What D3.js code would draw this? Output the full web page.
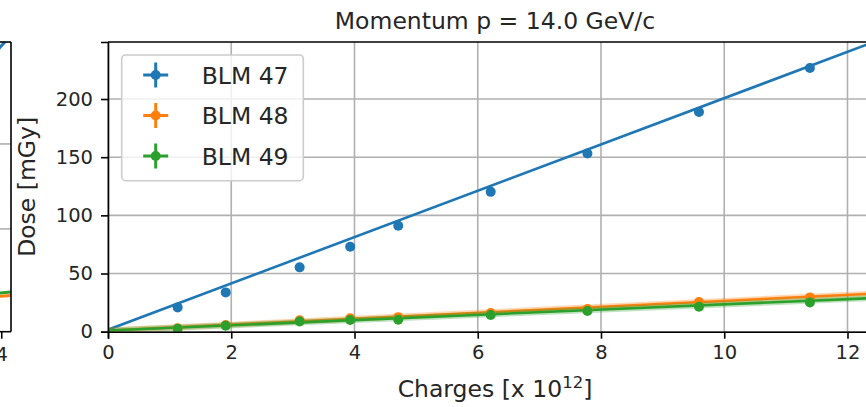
<!DOCTYPE html>
<html>
<head>
<meta charset="utf-8">
<script src="https://cdn.jsdelivr.net/npm/d3@7"></script>
<style>
  html, body { margin: 0; padding: 0; background: #fff; }
  svg { display: block; font-family: "DejaVu Sans", sans-serif; }
</style>
</head>
<body>
<div id="chart"></div>
<script>
// data
const charges = [1.13, 1.91, 3.11, 3.93, 4.71, 6.21, 7.78, 9.59, 11.39];
const blm47 = [20.9, 33.8, 55.3, 73.0, 91.0, 120.2, 153.1, 188.8, 226.6];
const blm48 = [3.0, 5.8, 9.8, 11.5, 12.5, 16.0, 19.5, 25.5, 29.5];
const blm49 = [2.6, 5.2, 8.8, 10.0, 10.3, 14.3, 17.8, 21.5, 25.2];
const xErr = [0.01, 0.01, 0.02, 0.02, 0.02, 0.03, 0.03, 0.04, 0.04];
const yErr47 = [0.5, 0.7, 1.0, 1.2, 1.4, 1.6, 1.8, 2.0, 2.2];
const yErr48 = [0.3, 0.4, 0.5, 0.6, 0.6, 0.7, 0.8, 1.0, 1.1];
const yErr49 = [0.3, 0.4, 0.5, 0.5, 0.6, 0.7, 0.8, 0.9, 1.0];
// linear fits [intercept, slope]
const fit47 = [1.7, 19.9];
const fit48 = [1.0, 2.55];
const fit49 = [1.0, 2.25];
const labels = ["BLM 47", "BLM 48", "BLM 49"];
const colors = ["#1f77b4", "#ff7f0e", "#2ca02c"];
const xTicks = [0, 2, 4, 6, 8, 10, 12];
const yTicks = [0, 50, 100, 150, 200];

// neighbouring panel, only its right edge is visible
const leftFits = [[0, 79], [0, 5.2], [0, 6.2]];
const leftYGrid = [100, 200];
const leftXTicks = [4];

const width = 866, height = 407;
const m = { left: 108, top: 42, right: 882, bottom: 331.7 };

const svg = d3.select("#chart").append("svg")
  .attr("width", width).attr("height", height);

const x = d3.scaleLinear().domain([0, 12.56]).range([m.left, m.right]);
const y = d3.scaleLinear().domain([0, 249]).range([m.bottom, m.top]);

// ---- left panel sliver ----
const lx = d3.scaleLinear().domain([3.0, 4.15]).range([11 - 1.15 * 61.64, 11]);
const ly = d3.scaleLinear().domain([-21, 320]).range([m.bottom, m.top]);
svg.append("clipPath").attr("id", "clipL").append("rect")
  .attr("x", -100).attr("y", m.top).attr("width", 111).attr("height", m.bottom - m.top);
const gl = svg.append("g");
gl.selectAll("line.grid").data(leftYGrid).join("line")
  .attr("x1", 0).attr("x2", 11).attr("y1", d => ly(d)).attr("y2", d => ly(d))
  .attr("stroke", "#b0b0b0").attr("stroke-width", 1.6);
const lineL = d3.line().x(d => lx(d[0])).y(d => ly(d[1]));
gl.append("g").attr("clip-path", "url(#clipL)")
  .selectAll("path").data([leftFits[1], leftFits[2], leftFits[0]]).join("path")
  .attr("d", f => lineL([[3.0, f[0] + f[1] * 3.0], [4.15, f[0] + f[1] * 4.15]]))
  .attr("fill", "none")
  .attr("stroke", (f, i) => [colors[1], colors[2], colors[0]][i])
  .attr("stroke-width", 3);
gl.append("line").attr("x1", -5).attr("x2", 11).attr("y1", m.top).attr("y2", m.top)
  .attr("stroke", "#000").attr("stroke-width", 1.6);
gl.append("line").attr("x1", -5).attr("x2", 11).attr("y1", m.bottom).attr("y2", m.bottom)
  .attr("stroke", "#000").attr("stroke-width", 1.6);
gl.append("line").attr("x1", 11).attr("x2", 11).attr("y1", m.top).attr("y2", m.bottom)
  .attr("stroke", "#000").attr("stroke-width", 1.6);
gl.selectAll("line.tk").data(leftXTicks).join("line")
  .attr("x1", d => lx(d)).attr("x2", d => lx(d))
  .attr("y1", m.bottom).attr("y2", m.bottom + 7)
  .attr("stroke", "#000").attr("stroke-width", 1.6);
gl.selectAll("text").data(leftXTicks).join("text")
  .attr("x", d => lx(d)).attr("y", 361)
  .attr("text-anchor", "middle").attr("font-size", 19.5).attr("fill", "#262626").text(d => d);

// ---- main panel ----
svg.append("clipPath").attr("id", "clip").append("rect")
  .attr("x", m.left).attr("y", m.top)
  .attr("width", m.right - m.left).attr("height", m.bottom - m.top);

// grid
svg.append("g").selectAll("line").data(xTicks).join("line")
  .attr("x1", d => x(d)).attr("x2", d => x(d))
  .attr("y1", m.top).attr("y2", m.bottom)
  .attr("stroke", "#b0b0b0").attr("stroke-width", 1.6);
svg.append("g").selectAll("line").data(yTicks).join("line")
  .attr("x1", m.left).attr("x2", m.right)
  .attr("y1", d => y(d)).attr("y2", d => y(d))
  .attr("stroke", "#b0b0b0").attr("stroke-width", 1.6);

const plot = svg.append("g").attr("clip-path", "url(#clip)");
const series = [
  { vals: blm47, err: yErr47, fit: fit47, c: colors[0], halo: false },
  { vals: blm48, err: yErr48, fit: fit48, c: colors[1], halo: true },
  { vals: blm49, err: yErr49, fit: fit49, c: colors[2], halo: true }
];
const xmax = x.domain()[1];
const fitLine = d3.line().x(d => x(d[0])).y(d => y(d[1]));

series.forEach(s => {
  const pts = [[0, s.fit[0]], [xmax, s.fit[0] + s.fit[1] * xmax]];
  if (s.halo) {
    plot.append("path").attr("d", fitLine(pts)).attr("fill", "none")
      .attr("stroke", s.c).attr("stroke-opacity", 0.3).attr("stroke-width", 6);
  }
  plot.append("path").attr("d", fitLine(pts)).attr("fill", "none")
    .attr("stroke", s.c).attr("stroke-width", 2.6);
});

series.forEach(s => {
  const g = plot.append("g");
  const data = charges.map((c, i) => ({ c, v: s.vals[i], ex: xErr[i], ey: s.err[i] }));
  g.selectAll("line.ey").data(data).join("line")
    .attr("x1", d => x(d.c)).attr("x2", d => x(d.c))
    .attr("y1", d => y(d.v - d.ey)).attr("y2", d => y(d.v + d.ey))
    .attr("stroke", s.c).attr("stroke-width", 3);
  g.selectAll("line.ex").data(data).join("line")
    .attr("x1", d => x(d.c - d.ex)).attr("x2", d => x(d.c + d.ex))
    .attr("y1", d => y(d.v)).attr("y2", d => y(d.v))
    .attr("stroke", s.c).attr("stroke-width", 3);
  g.selectAll("circle").data(data).join("circle")
    .attr("cx", d => x(d.c)).attr("cy", d => y(d.v)).attr("r", 5)
    .attr("fill", s.c);
});

// axes
const xAxis = svg.append("g").attr("transform", `translate(0,${m.bottom})`)
  .call(d3.axisBottom(x).tickValues(xTicks).tickSizeOuter(0).tickSize(7).tickPadding(6));
const yAxis = svg.append("g").attr("transform", `translate(${m.left},0)`)
  .call(d3.axisLeft(y).tickValues(yTicks).tickSizeOuter(0).tickSize(7).tickPadding(8));
[xAxis, yAxis].forEach(a => {
  a.select(".domain").attr("stroke", "#000").attr("stroke-width", 1.6);
  a.selectAll(".tick line").attr("stroke", "#000").attr("stroke-width", 1.6);
  a.selectAll(".tick text").attr("font-size", 19.5).attr("fill", "#262626")
    .attr("font-family", "DejaVu Sans");
});
svg.append("line").attr("x1", m.left).attr("x2", m.right)
  .attr("y1", m.top).attr("y2", m.top)
  .attr("stroke", "#000").attr("stroke-width", 1.6);

// title and labels
svg.append("text").attr("x", (m.left + m.right) / 2).attr("y", 29)
  .attr("text-anchor", "middle").attr("font-size", 23.5).attr("fill", "#262626")
  .text("Momentum p = 14.0 GeV/c");
const xl = svg.append("text").attr("x", (m.left + m.right) / 2).attr("y", 397)
  .attr("text-anchor", "middle").attr("font-size", 23.5).attr("fill", "#262626");
xl.append("tspan").text("Charges [x 10");
xl.append("tspan").attr("font-size", 16.5).attr("dy", -9).text("12");
xl.append("tspan").attr("dy", 9).text("]");
svg.append("text")
  .attr("transform", `translate(35,${(m.top + m.bottom) / 2}) rotate(-90)`)
  .attr("text-anchor", "middle").attr("font-size", 23.5).attr("fill", "#262626")
  .text("Dose [mGy]");

// legend
const leg = svg.append("g");
leg.append("rect").attr("x", 121.7).attr("y", 55).attr("width", 181.6).attr("height", 125.7)
  .attr("rx", 4).attr("fill", "#fff").attr("fill-opacity", 0.8)
  .attr("stroke", "#cccccc").attr("stroke-width", 1.6);
const rows = leg.selectAll("g").data(labels).join("g")
  .attr("transform", (d, i) => `translate(155.7,${75 + i * 40.5})`);
rows.append("line").attr("x1", -12.5).attr("x2", 12.5)
  .attr("stroke", (d, i) => colors[i]).attr("stroke-width", 3);
rows.append("line").attr("y1", -12.5).attr("y2", 12.5)
  .attr("stroke", (d, i) => colors[i]).attr("stroke-width", 3);
rows.append("circle").attr("r", 5).attr("fill", (d, i) => colors[i]);
rows.append("text").attr("x", 46).attr("y", 8.8).attr("font-size", 23.5)
  .attr("fill", "#262626").text(d => d);
</script>
</body>
</html>
